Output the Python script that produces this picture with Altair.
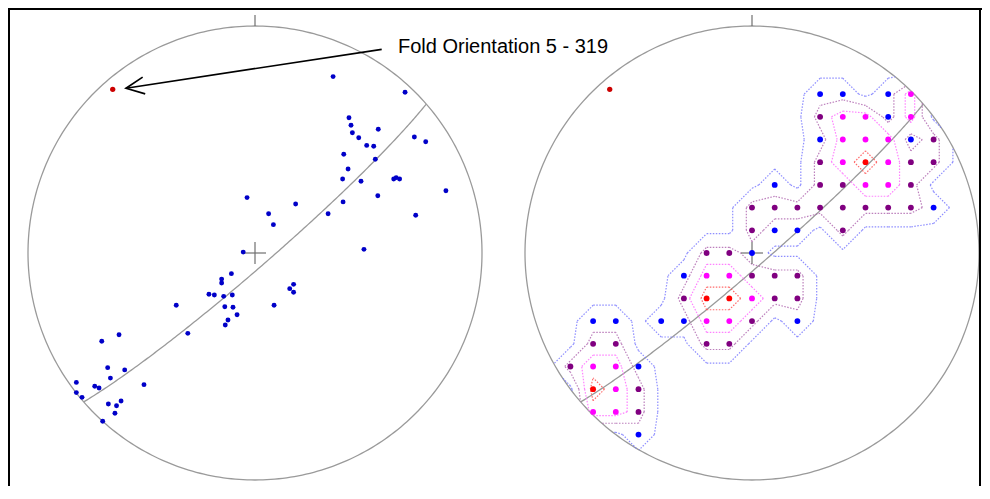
import numpy as np
import pandas as pd
import altair as alt

# ---------------- data ----------------
# Left net: poles in projected (east, north) units of the net radius
left_east = [0.344, 0.661, 0.414, 0.423, 0.429, 0.543, 0.457, 0.492, 0.523, 0.702,
             0.752, 0.391, 0.530, 0.410, 0.386, 0.467, 0.611, 0.622, 0.637, 0.841,
             0.541, 0.179, 0.388, 0.322, 0.708, 0.480, -0.035, 0.060, 0.081, -0.052,
             -0.104, -0.147, -0.147, -0.203, -0.179, -0.138, -0.100, -0.347, -0.133, -0.097,
             -0.079, -0.119, -0.131, 0.084, 0.153, 0.170, 0.170, -0.296, -0.599, -0.675,
             -0.649, -0.574, -0.637, -0.787, -0.706, -0.687, -0.489, -0.787, -0.762, -0.646,
             -0.610, -0.590, -0.617, -0.671]
left_north = [0.777, 0.708, 0.596, 0.563, 0.530, 0.545, 0.508, 0.474, 0.470, 0.511,
              0.490, 0.435, 0.413, 0.370, 0.326, 0.316, 0.326, 0.332, 0.326, 0.274,
              0.252, 0.216, 0.225, 0.173, 0.166, 0.016, 0.244, 0.173, 0.125, 0.004,
              -0.091, -0.115, -0.132, -0.182, -0.185, -0.191, -0.185, -0.230, -0.237, -0.239,
              -0.272, -0.295, -0.317, -0.230, -0.157, -0.138, -0.173, -0.354, -0.360, -0.389,
              -0.505, -0.515, -0.551, -0.570, -0.587, -0.595, -0.580, -0.615, -0.636, -0.665,
              -0.673, -0.652, -0.706, -0.741]

fold_trend = 319
fold_plunge = 5
annotation = "Fold Orientation 5 - 319"

# Right net: counting grid nodes (column, row) and their density class
grid_row = [7, 7, 7, 7,
            6, 6, 6, 6, 6,
            5, 5, 5, 5, 5, 5,
            4, 4, 4, 4, 4, 4,
            3, 3, 3, 3, 3, 3,
            2, 2, 2, 2, 2, 2, 2, 2, 2,
            1, 1, 1, 1,
            0, 0, 0,
            -1, -1, -1, -1, -1, -1,
            -2, -2, -2, -2, -2, -2,
            -3, -3, -3, -3, -3, -3, -3, -3,
            -4, -4, -4, -4,
            -5, -5, -5, -5,
            -6, -6, -6,
            -7, -7, -7,
            -8]
grid_col = [3, 4, 6, 7,
            3, 4, 5, 6, 7,
            3, 4, 5, 6, 7, 8,
            3, 4, 5, 6, 7, 8,
            1, 3, 4, 5, 6, 7,
            0, 1, 2, 3, 4, 5, 6, 7, 8,
            0, 1, 2, 4,
            -2, -1, 0,
            -3, -2, -1, 0, 1, 2,
            -3, -2, -1, 0, 1, 2,
            -7, -6, -4, -3, -2, -1, 0, 2,
            -7, -6, -2, -1,
            -8, -7, -6, -5,
            -7, -6, -5,
            -7, -6, -5,
            -5]
grid_class = list("BBBM" "PMMBM" "BMMMBP" "PMRMPP" "BPPMMP" "PPPPPPPPB" "PBBP" "PPB"
                  "BMMPPP" "PRRMPP" "BBBBMMPB" "PPPP" "PMMB" "RMP" "MMP" "B")
class_value = {"B": 1, "P": 2, "M": 3, "R": 4}
contour_levels = [0.3, 1.5, 2.5, 3.5]

# ---------------- layout ----------------
W, H = 974, 478
R_PX = 227.0
CX_L, CY = 247.0, 245.0          # left net centre in view pixels
OFF = 497.0 / R_PX               # right net offset in net radii
GRID = 0.1                       # counting grid spacing (net radii)
xmin = -CX_L / R_PX
xmax = (W - CX_L) / R_PX
ymax = CY / R_PX
ymin = (CY - H) / R_PX

xs = alt.Scale(domain=[xmin, xmax], nice=False, zero=False)
ys = alt.Scale(domain=[ymin, ymax], nice=False, zero=False)
X = lambda f: alt.X(f, type="quantitative", scale=xs, axis=None)
Y = lambda f: alt.Y(f, type="quantitative", scale=ys, axis=None)


def ea(e, n, d):
    """Lambert equal-area projection of lower-hemisphere unit vectors."""
    e, n, d = np.asarray(e, float), np.asarray(n, float), np.asarray(d, float)
    alpha = np.arccos(np.clip(d, -1, 1))
    r = np.sqrt(2) * np.sin(alpha / 2)
    h = np.hypot(e, n)
    h = np.where(h == 0, 1, h)
    return r * e / h, r * n / h


# primitive circles
th = np.linspace(0, 2 * np.pi, 361)
circ = pd.concat([
    pd.DataFrame({"x": np.sin(th) + o, "y": np.cos(th), "k": np.arange(361), "p": p})
    for p, o in (("L", 0.0), ("R", OFF))
])

# great circle perpendicular to the fold axis
tr, pl = np.radians(fold_trend), np.radians(fold_plunge)
pole = np.array([np.cos(pl) * np.sin(tr), np.cos(pl) * np.cos(tr), np.sin(pl)])
s = np.array([np.sin(tr + np.pi / 2), np.cos(tr + np.pi / 2), 0.0])
v = np.cross(pole, s)
if v[2] < 0:
    v = -v
t = np.linspace(0, np.pi, 181)
vec = np.outer(np.cos(t), s) + np.outer(np.sin(t), v)
gx, gy = ea(vec[:, 0], vec[:, 1], vec[:, 2])
gc = pd.concat([
    pd.DataFrame({"x": gx + o, "y": gy, "k": np.arange(len(t)), "p": p})
    for p, o in (("L", 0.0), ("R", OFF))
])

fx, fy = ea([pole[0]], [pole[1]], [pole[2]])
fold = pd.DataFrame({"x": [fx[0], fx[0] + OFF], "y": [fy[0], fy[0]]})

# ticks and centre crosses
tk = 11 / R_PX
cr = 11 / R_PX
deco = []
for o in (0.0, OFF):
    deco.append(dict(x=o, y=1.0, x2=o, y2=1.0 + tk))
    deco.append(dict(x=o - cr, y=0, x2=o + cr, y2=0))
    deco.append(dict(x=o, y=-cr, x2=o, y2=cr))
deco = pd.DataFrame(deco)

left = pd.DataFrame({"x": left_east, "y": left_north})

grid = pd.DataFrame({"i": grid_col, "j": grid_row, "c": grid_class})
grid["x"] = grid["i"] * GRID + OFF
grid["y"] = grid["j"] * GRID

# contour segments by marching squares on the counting grid
vals = {(i, j): class_value[c] for i, j, c in zip(grid_col, grid_row, grid_class)}
V = lambda i, j: vals.get((i, j), 0.0)


def clip(P, Q, rad=10.0):
    rp, rq = np.hypot(*P), np.hypot(*Q)
    if rp <= rad and rq <= rad:
        return P, Q
    if rp > rad and rq > rad:
        return None
    if rp > rad:
        P, Q = Q, P
    d = (Q[0] - P[0], Q[1] - P[1])
    a = d[0] ** 2 + d[1] ** 2
    b = 2 * (P[0] * d[0] + P[1] * d[1])
    c = P[0] ** 2 + P[1] ** 2 - rad ** 2
    tt = (-b + np.sqrt(max(b * b - 4 * a * c, 0))) / (2 * a)
    return P, (P[0] + tt * d[0], P[1] + tt * d[1])


segs = []
for lev in contour_levels:
    for i in range(-11, 11):
        for j in range(-11, 11):
            cs = [(i, j), (i + 1, j), (i + 1, j + 1), (i, j + 1)]
            vv = [V(*c) for c in cs]
            ab = [q >= lev for q in vv]
            pts = {}
            for k in range(4):
                a_, b_ = k, (k + 1) % 4
                if ab[a_] != ab[b_]:
                    tt = (lev - vv[a_]) / (vv[b_] - vv[a_])
                    (xa, ya), (xb, yb) = cs[a_], cs[b_]
                    pts[k] = (xa + tt * (xb - xa), ya + tt * (yb - ya))
            if len(pts) == 2:
                pairs = [tuple(pts.keys())]
            elif len(pts) == 4:
                centre = np.mean(vv) >= lev
                if ab[0]:
                    pairs = [(0, 1), (2, 3)] if centre else [(3, 0), (1, 2)]
                else:
                    pairs = [(3, 0), (1, 2)] if centre else [(0, 1), (2, 3)]
            else:
                pairs = []
            for p1, p2 in pairs:
                cl = clip(pts[p1], pts[p2])
                if cl is None:
                    continue
                (x1, y1), (x2, y2) = cl
                segs.append(dict(x=x1 * GRID + OFF, y=y1 * GRID,
                                 x2=x2 * GRID + OFF, y2=y2 * GRID, lev=str(lev)))
segs = pd.DataFrame(segs)

# annotation arrow
tip = np.array([fx[0] + 13.3 / R_PX, fy[0] + 1.1 / R_PX])
tail = np.array([(381.7 - 255) / R_PX, (253 - 49.3) / R_PX])
u = (tail - tip) / np.linalg.norm(tail - tip)
ang = np.radians(25)
L = 20 / R_PX
rot = lambda a: np.array([[np.cos(a), -np.sin(a)], [np.sin(a), np.cos(a)]])
a1 = tip + L * rot(ang) @ u
a2 = tip + L * rot(-ang) @ u
arrow_line = pd.DataFrame([dict(x=tail[0], y=tail[1], x2=tip[0], y2=tip[1])])
arrow_head = pd.DataFrame({"x": [a1[0], tip[0], a2[0]], "y": [a1[1], tip[1], a2[1]], "k": [0, 1, 2]})
label = pd.DataFrame({"x": [(398 - 255) / R_PX], "y": [(253 - 53) / R_PX], "t": [annotation]})

# ---------------- chart layers ----------------
gray = "#9a9a9a"
circles = alt.Chart(circ).mark_line(color=gray, strokeWidth=1.3).encode(
    x=X("x"), y=Y("y"), detail="p:N", order="k:Q")
greats = alt.Chart(gc).mark_line(color=gray, strokeWidth=1.3).encode(
    x=X("x"), y=Y("y"), detail="p:N", order="k:Q")
ticks = alt.Chart(deco).mark_rule(color="#707070", strokeWidth=1.2).encode(
    x=X("x"), y=Y("y"), x2="x2", y2="y2")
contours = alt.Chart(segs).mark_rule(strokeWidth=1.2, strokeDash=[1.5, 1.5], opacity=0.85).encode(
    x=X("x"), y=Y("y"), x2="x2", y2="y2",
    stroke=alt.Stroke("lev:N", legend=None,
                      scale=alt.Scale(domain=[str(l) for l in contour_levels],
                                      range=["#7a7aff", "#b068b0", "#ff6cff", "#ff5050"])))
gdots = alt.Chart(grid).mark_circle(size=34, opacity=1).encode(
    x=X("x"), y=Y("y"),
    fill=alt.Fill("c:N", legend=None,
                  scale=alt.Scale(domain=["B", "P", "M", "R"],
                                  range=["#0000ff", "#800080", "#ff00ff", "#ff0000"])))
ldots = alt.Chart(left).mark_circle(size=24, color="#0000c8", opacity=1).encode(x=X("x"), y=Y("y"))
fdots = alt.Chart(fold).mark_circle(size=28, color="#cc0000", opacity=1).encode(x=X("x"), y=Y("y"))
aline = alt.Chart(arrow_line).mark_rule(color="black", strokeWidth=1.7).encode(
    x=X("x"), y=Y("y"), x2="x2", y2="y2")
ahead = alt.Chart(arrow_head).mark_line(color="black", strokeWidth=1.7).encode(
    x=X("x"), y=Y("y"), order="k:Q")
text = alt.Chart(label).mark_text(align="left", baseline="alphabetic", fontSize=20,
                                  font="Liberation Sans", color="black").encode(
    x=X("x"), y=Y("y"), text="t:N")
frame_df = pd.DataFrame({"k": [0]})
frame_top = alt.Chart(frame_df).mark_rule(color="black", strokeWidth=2).encode(
    x=alt.value(0), x2=alt.value(W), y=alt.value(1))
frame_left = alt.Chart(frame_df).mark_rule(color="black", strokeWidth=2).encode(
    x=alt.value(1), y=alt.value(0), y2=alt.value(H))
frame_right = alt.Chart(frame_df).mark_rule(color="black", strokeWidth=2).encode(
    x=alt.value(W - 2), y=alt.value(0), y2=alt.value(H))

chart = alt.layer(circles, greats, contours, ticks, gdots, ldots, fdots, aline, ahead, text,
                  frame_top, frame_left, frame_right).resolve_scale(
    stroke="independent", fill="independent").properties(
    width=W, height=H, padding=0, autosize=alt.AutoSizeParams(type="none"),
    background="white").configure_view(stroke=None)

chart.save("out.html", embed_options={"renderer": "svg", "actions": False})
